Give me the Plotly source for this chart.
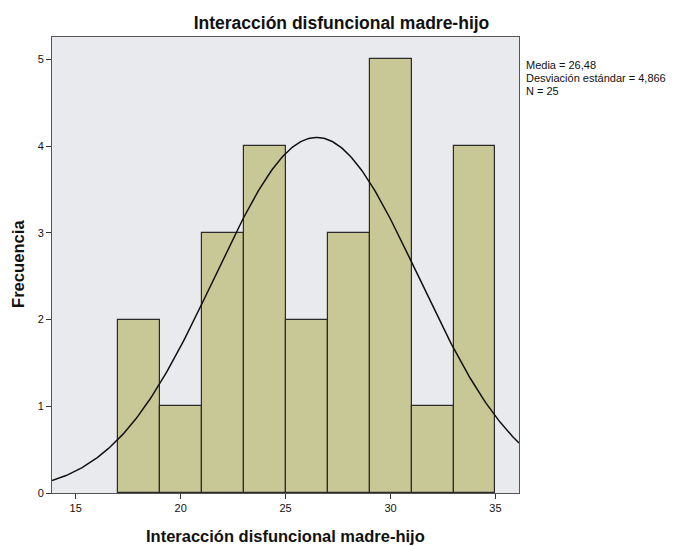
import numpy as np
import plotly.graph_objects as go

bin_left = [17, 19, 21, 23, 25, 27, 29, 31, 33]
bin_width = 2
freq = [2, 1, 3, 4, 2, 3, 5, 1, 4]
mean = 26.48
sd = 4.866
n = 25
x_ticks = [15, 20, 25, 30, 35]
y_ticks = [0, 1, 2, 3, 4, 5]
stats_lines = ["Media = 26,48", "Desviación estándar = 4,866", "N = 25"]

centers = [b + bin_width / 2 for b in bin_left]

xs = np.linspace(13.87, 36.12, 300)
ys = n * bin_width / (sd * np.sqrt(2 * np.pi)) * np.exp(-0.5 * ((xs - mean) / sd) ** 2)

fig = go.Figure()
fig.add_trace(go.Bar(x=centers, y=freq, width=[bin_width] * len(freq),
                     marker=dict(color="#c8c896", line=dict(color="#2b2b2b", width=1.2)),
                     hoverinfo="skip"))
fig.add_trace(go.Scatter(x=xs, y=ys, mode="lines", line=dict(color="#111111", width=1.5),
                         hoverinfo="skip"))

annots = []
for i, t in enumerate(stats_lines):
    annots.append(dict(text=t, xref="paper", yref="paper", x=1.013, y=(493 - 65 - i * 12.8) / 456,
                       xanchor="left", yanchor="middle", align="left", showarrow=False,
                       borderpad=0, font=dict(size=11, color="#111111")))
# axis titles
annots.append(dict(text="<b>Interacción disfuncional madre-hijo</b>", xref="paper", yref="paper",
                   x=0.5, y=-(536 - 493) / 456, xanchor="center", yanchor="middle",
                   showarrow=False, font=dict(size=16.5, color="#111111")))
annots.append(dict(text="<b>Frecuencia</b>", xref="paper", yref="paper",
                   x=-(52 - 18) / 467, y=(493 - 264) / 456, xanchor="center", yanchor="middle",
                   textangle=-90, showarrow=False, font=dict(size=16.6, color="#111111")))

fig.update_layout(
    width=683, height=546,
    margin=dict(l=52, r=164, t=37, b=53),
    paper_bgcolor="white", plot_bgcolor="#e9eaed",
    showlegend=False, bargap=0,
    font=dict(family="Arial, Liberation Sans, sans-serif", color="#111111"),
    title=dict(text="<b>Interacción disfuncional madre-hijo</b>", x=0.5, xanchor="center",
               y=1 - 22.5 / 546, yanchor="middle", font=dict(size=17.5, color="#111111")),
    xaxis=dict(range=[13.87, 36.12], tickvals=x_ticks, ticks="outside", ticklen=5,
               tickcolor="#333", showgrid=False, zeroline=False, showline=True,
               linecolor="#555", linewidth=1, mirror=True, tickfont=dict(size=11)),
    yaxis=dict(range=[0, 5.257], tickvals=y_ticks, ticks="outside", ticklen=5,
               tickcolor="#333", showgrid=False, zeroline=False, showline=True,
               linecolor="#555", linewidth=1, mirror=True, tickfont=dict(size=11)),
    annotations=annots,
)

fig.write_html("out.html")
